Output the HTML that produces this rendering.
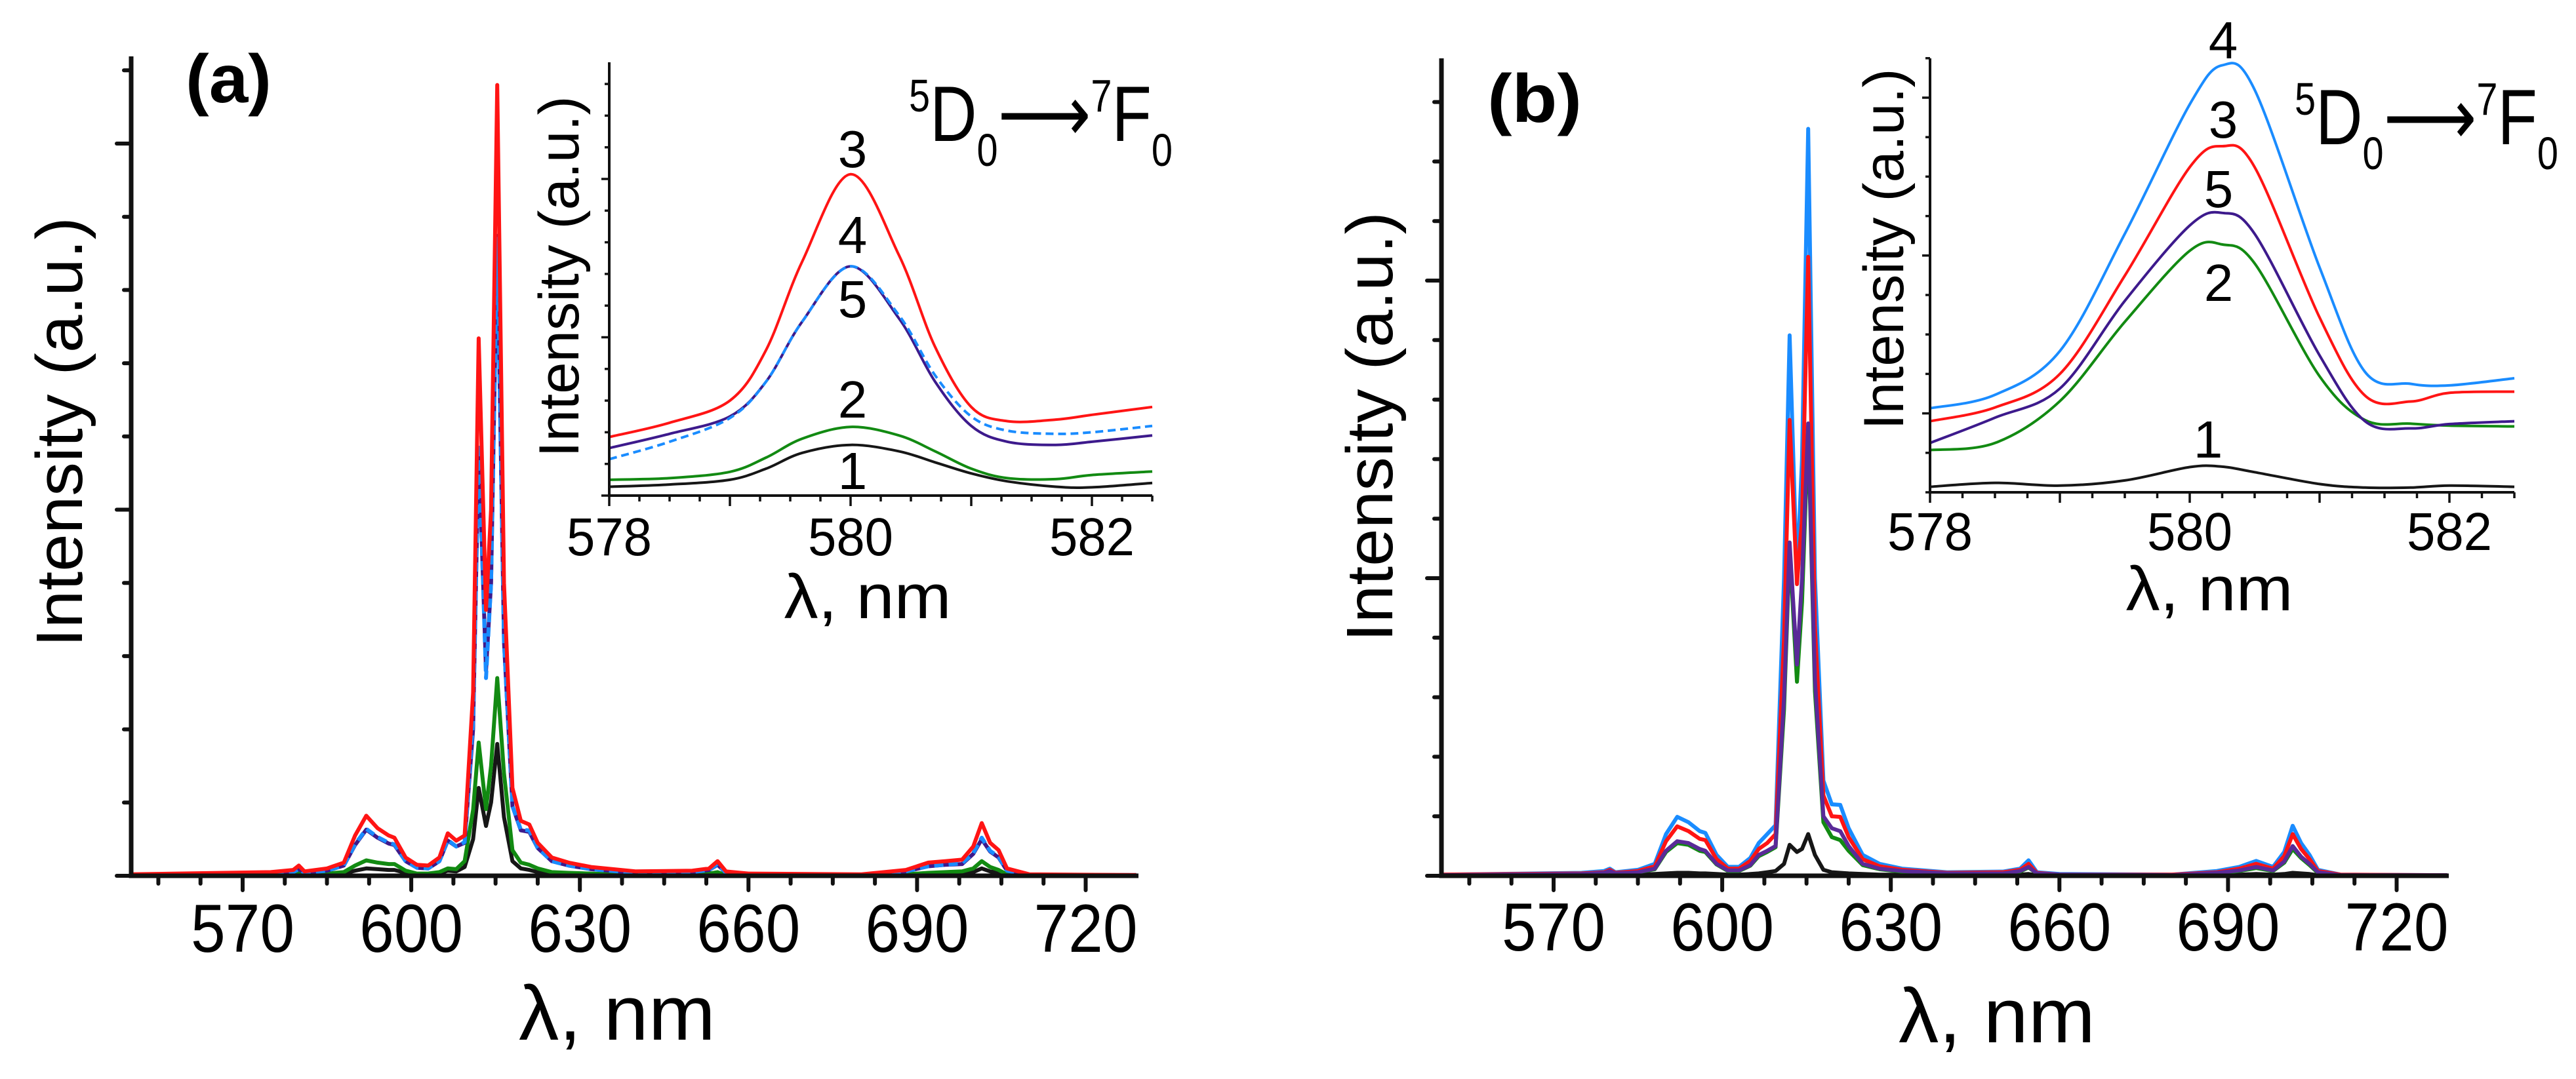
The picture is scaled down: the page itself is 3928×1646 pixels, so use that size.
<!DOCTYPE html>
<html><head><meta charset="utf-8"><style>
html,body{margin:0;padding:0;background:#fff}
svg{display:block}
text{font-family:"Liberation Sans",sans-serif;fill:#000}
</style></head><body>
<svg id="fig" xmlns="http://www.w3.org/2000/svg" width="3928" height="1646" viewBox="0 0 3928 1646"></svg>
<script>
// ---- Main spectra data (shared wavelength grid, nm) ----
const mainWl = [550,575,579,580,581,585,588,590,592,594,596,597,599,601,603,605,606.5,608,609.5,611,612,613.3,614.2,615.3,616.5,618,619.5,621,622.5,625,628,632,640,650,653,654.5,656,660,680,688,692,695,698,700,701.5,703,704.5,706,710,729];
const mainTicksLabels = [570,600,630,660,690,720];
// panel a (units: y-tick steps)
const aRed = [0.02,0.05,0.08,0.14,0.06,0.1,0.18,0.55,0.82,0.65,0.55,0.52,0.25,0.15,0.14,0.25,0.58,0.48,0.55,2.5,7.34,3.63,5.0,10.8,4.0,1.2,0.75,0.7,0.45,0.25,0.18,0.12,0.06,0.07,0.1,0.2,0.06,0.03,0.02,0.08,0.18,0.2,0.22,0.4,0.72,0.45,0.35,0.1,0.02,0.01];
const aPurple = [0.01,0.03,0.05,0.09,0.04,0.07,0.14,0.42,0.63,0.52,0.44,0.42,0.2,0.11,0.1,0.2,0.48,0.4,0.45,2.0,5.84,2.8,4.0,8.74,3.2,0.95,0.62,0.6,0.38,0.2,0.14,0.09,0.04,0.05,0.08,0.15,0.04,0.02,0.01,0.06,0.13,0.15,0.16,0.3,0.5,0.33,0.25,0.07,0.01,0.01];
const aBlue = [0.01,0.03,0.05,0.09,0.04,0.07,0.14,0.43,0.64,0.53,0.45,0.43,0.2,0.11,0.1,0.2,0.49,0.4,0.46,2.1,5.9,2.7,4.0,8.7,3.2,0.95,0.63,0.62,0.38,0.2,0.14,0.09,0.04,0.05,0.08,0.16,0.04,0.02,0.01,0.06,0.13,0.15,0.17,0.31,0.52,0.34,0.26,0.07,0.01,0.01];
const aGreen = [0.0,0.01,0.02,0.04,0.02,0.03,0.05,0.14,0.21,0.18,0.16,0.16,0.07,0.03,0.03,0.05,0.1,0.09,0.2,0.9,1.82,0.91,1.5,2.7,1.4,0.35,0.18,0.15,0.1,0.05,0.04,0.03,0.01,0.02,0.03,0.05,0.01,0.01,0.0,0.02,0.04,0.05,0.06,0.1,0.2,0.12,0.08,0.02,0.0,0.0];
const aBlack = [0.0,0.0,0.01,0.02,0.01,0.02,0.03,0.07,0.1,0.09,0.08,0.08,0.04,0.02,0.02,0.03,0.07,0.06,0.12,0.5,1.2,0.68,1.0,1.8,0.8,0.2,0.1,0.08,0.05,0.03,0.02,0.02,0.01,0.01,0.02,0.03,0.01,0.0,0.0,0.01,0.02,0.03,0.03,0.05,0.1,0.06,0.04,0.01,0.0,0.0];
// panel b
const bBlue = [0.02,0.05,0.08,0.12,0.06,0.1,0.2,0.7,0.99,0.9,0.75,0.72,0.35,0.15,0.15,0.3,0.55,0.7,0.85,5.0,9.08,5.0,7.0,12.55,5.0,1.6,1.2,1.19,0.8,0.35,0.2,0.12,0.06,0.07,0.12,0.26,0.06,0.03,0.02,0.08,0.15,0.25,0.15,0.4,0.84,0.55,0.35,0.1,0.02,0.01];
const bRed = [0.02,0.04,0.06,0.1,0.05,0.08,0.16,0.58,0.83,0.75,0.62,0.6,0.28,0.12,0.12,0.25,0.45,0.55,0.7,4.0,7.66,4.9,6.0,10.4,4.2,1.35,1.0,0.99,0.65,0.28,0.16,0.1,0.05,0.06,0.1,0.2,0.05,0.02,0.02,0.06,0.12,0.2,0.12,0.33,0.7,0.45,0.28,0.08,0.02,0.01];
const bPurple = [0.01,0.03,0.05,0.08,0.04,0.06,0.12,0.42,0.58,0.55,0.45,0.42,0.2,0.09,0.09,0.18,0.35,0.42,0.5,3.0,5.6,3.55,5.0,7.6,3.3,1.0,0.8,0.75,0.5,0.2,0.12,0.08,0.04,0.04,0.08,0.15,0.04,0.02,0.01,0.05,0.09,0.15,0.09,0.24,0.5,0.32,0.2,0.06,0.01,0.01];
const bGreen = [0.01,0.03,0.05,0.07,0.04,0.06,0.11,0.4,0.55,0.52,0.42,0.4,0.19,0.08,0.08,0.17,0.33,0.4,0.48,2.8,5.5,3.26,4.6,7.5,3.1,0.9,0.65,0.6,0.42,0.18,0.11,0.07,0.03,0.04,0.07,0.14,0.04,0.02,0.01,0.04,0.08,0.13,0.08,0.22,0.45,0.3,0.18,0.05,0.01,0.01];
const bBlack = [0.0,0.01,0.01,0.02,0.01,0.02,0.03,0.04,0.05,0.05,0.04,0.04,0.03,0.02,0.02,0.03,0.04,0.06,0.08,0.2,0.52,0.4,0.45,0.7,0.35,0.1,0.06,0.05,0.04,0.03,0.02,0.02,0.01,0.01,0.02,0.03,0.01,0.01,0.0,0.01,0.02,0.03,0.02,0.03,0.05,0.04,0.03,0.01,0.0,0.0];
// ---- Inset data ----
const insetTickLabels = [578,580,582];
const insAWl = [578,578.5,579,579.3,579.6,580,580.4,580.7,581,581.3,581.7,582,582.5];
const insARed = [1.85,2.3,3.0,4.6,7.4,10.15,7.6,4.7,2.8,2.35,2.4,2.55,2.8];
const insAPurple = [1.5,1.95,2.5,3.6,5.5,7.24,5.6,3.6,2.2,1.7,1.6,1.7,1.9];
const insABlue = [1.15,1.7,2.45,3.6,5.5,7.24,5.7,3.8,2.5,2.05,1.95,2.0,2.2];
const insAGreen = [0.5,0.55,0.75,1.2,1.8,2.17,1.9,1.4,0.85,0.55,0.52,0.65,0.76];
const insABlack = [0.28,0.35,0.5,0.85,1.35,1.6,1.4,1.05,0.7,0.45,0.28,0.26,0.4];
const insBWl = [578,578.5,579,579.5,580,580.25,580.5,581,581.35,581.7,582,582.5];
const insBBlue = [2.13,2.47,3.58,6.55,9.83,10.82,10.2,5.7,3.05,2.75,2.71,2.89];
const insBRed = [1.8,2.15,3.0,5.49,8.24,8.77,8.24,4.43,2.45,2.3,2.52,2.55];
const insBPurple = [1.25,1.89,2.63,4.85,6.76,7.08,6.55,3.47,1.8,1.62,1.73,1.8];
const insBGreen = [1.07,1.25,2.31,4.32,6.12,6.28,5.8,2.94,1.83,1.74,1.69,1.67];
const insBBlack = [0.14,0.24,0.17,0.3,0.64,0.65,0.51,0.21,0.12,0.12,0.17,0.14];

const NS = "http://www.w3.org/2000/svg";
const svg = document.getElementById('fig');
function mk(tag, attrs, parent){ const e=document.createElementNS(NS,tag); for(const k in attrs) e.setAttribute(k,attrs[k]); (parent||svg).appendChild(e); return e; }
function txt(s, attrs, parent){ const e=mk('text',attrs,parent); e.textContent=s; return e; }
function linePath(xs, ys, sx, sy){ return xs.map((x,i)=>(i?'L':'M')+sx(x).toFixed(1)+' '+sy(ys[i]).toFixed(1)).join(' '); }
function smoothPath(xs, ys, sx, sy){
  const P = xs.map((x,i)=>[sx(x), sy(ys[i])]);
  let d = 'M'+P[0][0].toFixed(1)+' '+P[0][1].toFixed(1);
  for(let i=0;i<P.length-1;i++){
    const p0=P[Math.max(0,i-1)], p1=P[i], p2=P[i+1], p3=P[Math.min(P.length-1,i+2)];
    const c1=[p1[0]+(p2[0]-p0[0])/6, p1[1]+(p2[1]-p0[1])/6];
    const c2=[p2[0]-(p3[0]-p1[0])/6, p2[1]-(p3[1]-p1[1])/6];
    d+=' C'+c1[0].toFixed(1)+' '+c1[1].toFixed(1)+' '+c2[0].toFixed(1)+' '+c2[1].toFixed(1)+' '+p2[0].toFixed(1)+' '+p2[1].toFixed(1);
  }
  return d;
}

function mainPanel(cfg){
  const g = mk('g',{});
  
  
  const sx = w => cfg.x570 + (w-570)*cfg.pxnm;
  const sy = v => cfg.base - v*cfg.unit;
  cfg.series.forEach(s=>{
    const p = mk('path',{d:linePath(mainWl,s.data,sx,sy),fill:'none',stroke:s.color,'stroke-width':6,'stroke-linejoin':'round'},g);
    if(s.dash) p.setAttribute('stroke-dasharray', s.dash);
    
    
  });
  const ax = mk('path',{d:`M${cfg.axX} ${cfg.top} L${cfg.axX} ${cfg.base} L${cfg.xEnd} ${cfg.base}`,fill:'none',stroke:'#111','stroke-width':7},g);
  
  
  for(let k=0;k<=cfg.nY;k++){
    const y=cfg.base-k*cfg.unit; const len=(k%cfg.majEvery===cfg.majOff)?22:11;
    mk('line',{x1:cfg.axX-len,y1:y,x2:cfg.axX,y2:y,stroke:'#111','stroke-width':6,'stroke-linecap':'round'},g);
  }
  for(let w=555; w<=727; w+=7.5){
    const x=sx(w); const maj=((w-570)%30===0);
    mk('line',{x1:x,y1:cfg.base,x2:x,y2:cfg.base+(maj?22:12),stroke:'#111','stroke-width':6,'stroke-linecap':'round'},g);
  }
  mainTicksLabels.forEach(v=>{
    const t=txt(String(v),{x:sx(v),y:cfg.labY,'text-anchor':'middle','font-size':104,textLength:158,lengthAdjust:'spacingAndGlyphs'},g);
    
    
  });
  const xt=txt('λ, nm',{x:cfg.xtX,y:cfg.xtY,'text-anchor':'middle','font-size':118,textLength:300,lengthAdjust:'spacingAndGlyphs'},g);
  
  
  const yt=txt('Intensity (a.u.)',{x:0,y:0,'text-anchor':'middle','font-size':100,textLength:656,lengthAdjust:'spacingAndGlyphs',transform:`translate(${cfg.ytX},${cfg.ytY}) rotate(-90)`},g);
  
  
  const pl=txt(cfg.tag,{x:cfg.tagX,y:cfg.tagY,'font-size':104,'font-weight':'bold',textLength:cfg.tagW,lengthAdjust:'spacingAndGlyphs'},g);
  
  
}

function inset(cfg){
  const g = mk('g',{});
  
  
  const sx = w => cfg.x578 + (w-578)*cfg.pxnm;
  const sy = v => cfg.base - v*cfg.unit;
  cfg.series.forEach(s=>{
    const p = mk('path',{d:smoothPath(cfg.wl,s.data,sx,sy),fill:'none',stroke:s.color,'stroke-width':4},g);
    if(s.dash) p.setAttribute('stroke-dasharray', s.dash);
    
    
  });
  const ax = mk('path',{d:`M${cfg.x578} ${cfg.top} L${cfg.x578} ${cfg.base} L${cfg.right} ${cfg.base}`,fill:'none',stroke:'#111','stroke-width':4},g);
  
  
  for(let k=0;k<=cfg.nY;k++){
    const y=cfg.base-k*cfg.unit; const len=(k%cfg.majEvery===cfg.majOff)?12:7;
    mk('line',{x1:cfg.x578-len,y1:y,x2:cfg.x578,y2:y,stroke:'#111','stroke-width':3.5},g);
  }
  for(let w=578; w<=582.51; w+=0.25){
    const x=sx(w); const maj=Math.abs(w-Math.round(w))<0.01;
    mk('line',{x1:x,y1:cfg.base,x2:x,y2:cfg.base+(maj?16:9),stroke:'#111','stroke-width':3.5},g);
  }
  insetTickLabels.forEach(v=>{
    const t=txt(String(v),{x:sx(v),y:cfg.labY,'text-anchor':'middle','font-size':82,textLength:130,lengthAdjust:'spacingAndGlyphs'},g);
    
    
  });
  const xt=txt('λ, nm',{x:cfg.xtX,y:cfg.xtY,'text-anchor':'middle','font-size':96,textLength:255,lengthAdjust:'spacingAndGlyphs'},g);
  
  
  const yt=txt('Intensity (a.u.)',{x:0,y:0,'text-anchor':'middle','font-size':86,textLength:551,lengthAdjust:'spacingAndGlyphs',transform:`translate(${cfg.ytX},${cfg.ytY}) rotate(-90)`},g);
  
  
  cfg.nums.forEach(n=>{
    const t=txt(n[0],{x:n[1],y:n[2],'text-anchor':'middle','font-size':80},g);
    
    
  });
  const tl=mk('text',{x:cfg.trX,y:cfg.trY,'font-size':120,textLength:cfg.trW,lengthAdjust:'spacingAndGlyphs'},g);
  
  
  const parts=[['5',-45,70],['D',45,120],['0',38,70],['⟶',-38,120],['7',-45,70],['F',45,120],['0',38,70]];
  parts.forEach(p=>{ const ts=mk('tspan',{dy:p[1],'font-size':p[2]},tl); ts.textContent=p[0]; });
}

const cRed='#ff1414', cPur='#3d1a8c', cBlu='#1a8cff', cGrn='#128a12', cBlk='#161616';
mainPanel({name:'panel-a-main-chart', x570:370, pxnm:8.57, base:1336, unit:111.7, top:86, axX:200, xEnd:1736, nY:11, majEvery:5, majOff:0, labY:1452, xtX:941, xtY:1586, ytX:125, ytY:659, tag:'(a)', tagX:283, tagY:156, tagW:131,
  series:[{label:'curve-1-a',data:aBlack,color:cBlk},{label:'curve-2-a',data:aGreen,color:cGrn},{label:'curve-4-a',data:aPurple,color:cPur},{label:'curve-5-a',data:aBlue,color:cBlu,dash:'14 8'},{label:'curve-3-a',data:aRed,color:cRed}]});
mainPanel({name:'panel-b-main-chart', x570:2369, pxnm:8.57, base:1336, unit:90.8, top:89, axX:2198, xEnd:3734, nY:13, majEvery:5, majOff:0, labY:1450, xtX:3045, xtY:1590, ytX:2123, ytY:651, tag:'(b)', tagX:2268, tagY:186, tagW:144,
  series:[{label:'curve-1-b',data:bBlack,color:cBlk},{label:'curve-2-b',data:bGreen,color:cGrn},{label:'curve-4-b',data:bBlue,color:cBlu},{label:'curve-3-b',data:bRed,color:cRed},{label:'curve-5-b',data:bPurple,color:'#5a2a98'}]});
inset({name:'panel-a-inset', wl:insAWl, x578:929, pxnm:184, base:756, unit:48.3, top:95, right:1757, nY:13, majEvery:5, majOff:0, labY:847, xtX:1323, xtY:943, ytX:882, ytY:422,
  trX:1386, trY:215, trW:402,
  nums:[['3',1300,255],['4',1300,386],['5',1300,484],['2',1300,637],['1',1300,746]],
  series:[{label:'inset-curve-1-a',data:insABlack,color:cBlk},{label:'inset-curve-2-a',data:insAGreen,color:cGrn},{label:'inset-curve-4-a',data:insAPurple,color:cPur},{label:'inset-curve-5-a',data:insABlue,color:cBlu,dash:'12 7'},{label:'inset-curve-3-a',data:insARed,color:cRed}]});
inset({name:'panel-b-inset', wl:insBWl, x578:2943, pxnm:198, base:751, unit:60.2, top:89, right:3834, nY:11, majEvery:4, majOff:2, labY:839, xtX:3369, xtY:931, ytX:2902, ytY:380,
  trX:3499, trY:220, trW:402,
  nums:[['4',3390,89],['3',3390,210],['5',3383,316],['2',3383,459],['1',3367,698]],
  series:[{label:'inset-curve-1-b',data:insBBlack,color:cBlk},{label:'inset-curve-2-b',data:insBGreen,color:cGrn},{label:'inset-curve-5-b',data:insBPurple,color:cPur},{label:'inset-curve-3-b',data:insBRed,color:cRed},{label:'inset-curve-4-b',data:insBBlue,color:cBlu}]});
</script>
</body></html>
